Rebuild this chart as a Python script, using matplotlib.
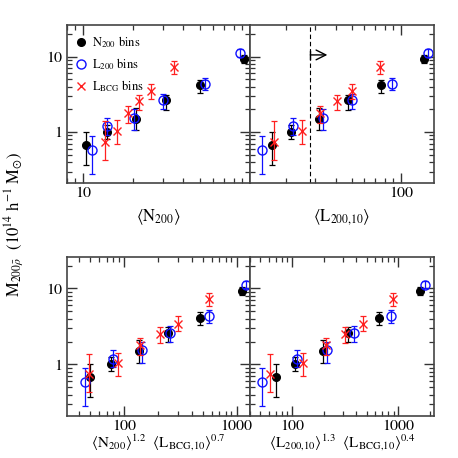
import matplotlib.pyplot as plt
from matplotlib.ticker import LogLocator, FuncFormatter, NullFormatter

plt.rcParams['font.family'] = ['STIXGeneral', 'DejaVu Serif']
plt.rcParams['mathtext.fontset'] = 'stix'

# stacked masses (10^14 h^-1 Msun), same for every panel
m_n200 = [0.68, 1.0, 1.5, 2.62, 4.14, 9.2]
m_n200_lo = [0.37, 0.81, 1.05, 1.97, 3.3, 8.2]
m_n200_hi = [1.0, 1.25, 2.08, 3.1, 4.9, 10.5]

m_l200 = [0.58, 1.19, 1.53, 2.62, 4.35, 11.1]
m_l200_lo = [0.28, 0.92, 1.05, 2.0, 3.55, 10.0]
m_l200_hi = [0.89, 1.53, 2.0, 3.2, 5.2, 12.5]

m_lbcg = [0.74, 1.04, 1.78, 2.54, 3.45, 7.16]
m_lbcg_lo = [0.43, 0.70, 1.31, 1.93, 2.73, 5.9]
m_lbcg_hi = [1.38, 1.43, 2.23, 3.1, 4.3, 8.8]

# x values of each binning in each panel
x_n200 = {
    'N200': [10.4, 13.96, 20.9, 31.3, 50.5, 92.5],
    'L200': [16.3, 21.4, 31.8, 47.7, 75.7, 138.8],
    'NL': [49.9, 76.7, 136.7, 247, 472, 1122],
    'LL': [70.7, 105.8, 194.5, 337, 656, 1585],
}
x_l200 = {
    'N200': [11.3, 13.96, 20.2, 30.3, 54.1, 87.1],
    'L200': [14.2, 22.1, 33.7, 50.7, 88.1, 146],
    'NL': [45.1, 80.4, 143.5, 256, 571, 1203],
    'LL': [52.1, 111.4, 214, 381, 845, 1783],
}
x_lbcg = {
    'N200': [13.5, 16.1, 18.5, 21.7, 25.6, 35.2],
    'L200': [16.7, 24.9, 32.2, 40.7, 50.7, 74.8],
    'NL': [49.2, 89.1, 138.6, 208, 300, 575],
    'LL': [61.1, 126, 206, 313, 463, 897],
}

panels = ['N200', 'L200', 'NL', 'LL']
xlims = {'N200': (8, 100.5), 'L200': (12, 160), 'NL': (31, 1320), 'LL': (40, 2170)}
xlabels = {
    'N200': r'$\langle\mathrm{N}_{200}\rangle$',
    'L200': r'$\langle\mathrm{L}_{200{,}10}\rangle$',
    'NL': r'$\langle\mathrm{N}_{200}\rangle^{1.2}\ \ \langle\mathrm{L}_{\mathrm{BCG{,}10}}\rangle^{0.7}$',
    'LL': r'$\langle\mathrm{L}_{200{,}10}\rangle^{1.3}\ \ \langle\mathrm{L}_{\mathrm{BCG{,}10}}\rangle^{0.4}$',
}
l_cut = 28

fig = plt.figure(figsize=(4.58, 4.58), dpi=100)
boxes = {
    'N200': [0.146, 0.600, 0.400, 0.345],
    'L200': [0.546, 0.600, 0.402, 0.345],
    'NL': [0.146, 0.092, 0.400, 0.347],
    'LL': [0.546, 0.092, 0.402, 0.347],
}

series = [
    (x_n200, m_n200, m_n200_lo, m_n200_hi, 'k', dict(marker='o', mfc='k', mec='k', ms=5.5), r'N$_{200}$ bins'),
    (x_l200, m_l200, m_l200_lo, m_l200_hi, '#1010ff', dict(marker='o', mfc='none', mec='#1010ff', ms=6.5, mew=1.0), r'L$_{200}$ bins'),
    (x_lbcg, m_lbcg, m_lbcg_lo, m_lbcg_hi, '#ff2020', dict(marker='x', mfc='none', mec='#ff2020', ms=6, mew=1.0), r'L$_{\rm BCG}$ bins'),
]

for p in panels:
    ax = fig.add_axes(boxes[p])
    ax.set_xscale('log')
    ax.set_yscale('log')
    ax.set_xlim(*xlims[p])
    ax.set_ylim(0.21, 26)
    handles = []
    for xd, m, lo, hi, col, mk, lab in series:
        yerr = [[a - b for a, b in zip(m, lo)], [b - a for a, b in zip(m, hi)]]
        ax.errorbar(xd[p], m, yerr=yerr, fmt='none', ecolor=col, elinewidth=0.9, capsize=2, capthick=0.9)
        ln, = ax.plot(xd[p], m, ls='none', **mk, label=lab)
        handles.append(ln)

    for axis in (ax.xaxis, ax.yaxis):
        axis.set_major_locator(LogLocator(base=10, numticks=10))
        axis.set_minor_locator(LogLocator(base=10, subs=[2, 3, 4, 5, 6, 7, 8, 9], numticks=20))
        axis.set_minor_formatter(NullFormatter())
    ax.tick_params(which='both', direction='in', top=True, right=True, colors='#333333', labelcolor='k', labelsize=11.5)
    ax.tick_params(which='major', length=7, width=1.0)
    ax.tick_params(which='minor', length=3.8, width=0.9)
    ax.tick_params(axis='x', which='major', pad=2.5)
    for s in ax.spines.values():
        s.set_color('#444444')
        s.set_linewidth(1.2)
    if p == 'N200':
        ax.xaxis.set_major_formatter(FuncFormatter(lambda v, pos: '10' if abs(v - 10) < 1 else ''))
    else:
        ax.xaxis.set_major_formatter(FuncFormatter(lambda v, pos: '%d' % round(v)))
    if p in ('N200', 'NL'):
        ax.yaxis.set_major_formatter(FuncFormatter(lambda v, pos: '%d' % round(v) if v >= 1 else ''))
    else:
        ax.yaxis.set_major_formatter(NullFormatter())
    top = p in ('N200', 'L200')
    ax.set_xlabel(xlabels[p], fontsize=12 if top else 11, va='center')
    ax.xaxis.set_label_coords(0.5, -0.215 if top else -0.172)

    if p == 'N200':
        ax.legend(handles=handles, loc='upper left', frameon=False, fontsize=9,
                  handlelength=0.8, handletextpad=0.5, labelspacing=0.5,
                  borderaxespad=0.3, borderpad=0.4)
    if p == 'L200':
        ax.axvline(l_cut, ls=(0, (4, 2.5)), color='k', lw=0.8)
        ax.annotate('', xy=(35.6, 10.5), xytext=(l_cut, 10.5),
                    arrowprops=dict(arrowstyle='->,head_length=0.5,head_width=0.25', color='k', lw=1.0,
                                    mutation_scale=14, shrinkA=0, shrinkB=0))
        ax.plot([l_cut, l_cut], [9.2, 12.0], color='k', lw=1.0)

fig.text(0.03, 0.51, r'M$_{200\bar{\rho}}$  (10$^{14}$ h$^{-1}$ M$_{\odot}$)', rotation=90,
         va='center', ha='center', fontsize=12)

fig.savefig('out.png', dpi=100)
